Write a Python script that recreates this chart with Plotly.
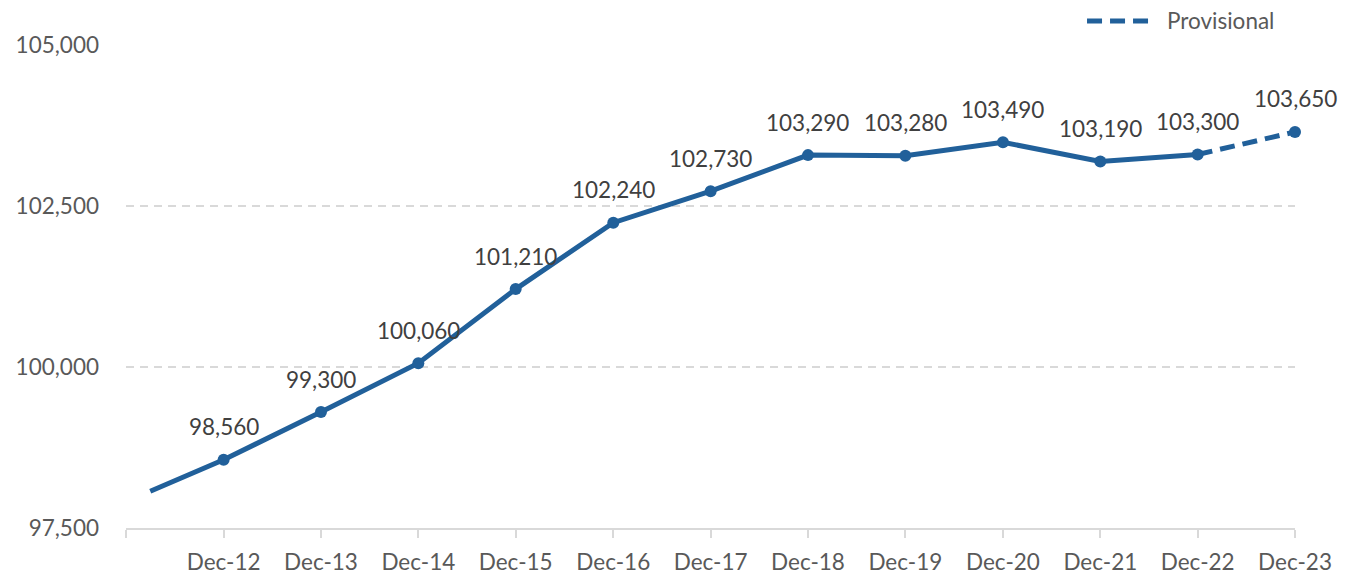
import plotly.graph_objects as go

# Data
first_date = ["2012-03-31"]
first_value = [98070]
dates = ["2012-12-31", "2013-12-31", "2014-12-31", "2015-12-31", "2016-12-31", "2017-12-31",
         "2018-12-31", "2019-12-31", "2020-12-31", "2021-12-31", "2022-12-31"]
values = [98560, 99300, 100060, 101210, 102240, 102730, 103290, 103280, 103490, 103190, 103300]
prov_dates = ["2022-12-31", "2023-12-31"]
prov_values = [103300, 103650]
tick_dates = ["2011-12-31"] + dates + ["2023-12-31"]
tick_labels = ["", "Dec-12", "Dec-13", "Dec-14", "Dec-15", "Dec-16", "Dec-17", "Dec-18",
               "Dec-19", "Dec-20", "Dec-21", "Dec-22", "Dec-23"]
y_ticks = [97500, 100000, 102500, 105000]
legend_name = "Provisional"

COLOR = "#21609A"
FONT = "Lato"
FS = 22.5
DASH = "15px,8px"

fig = go.Figure()
fig.add_trace(go.Scatter(x=first_date + dates, y=first_value + values, mode="lines",
                         line=dict(color=COLOR, width=5), showlegend=False, hoverinfo="skip"))
fig.add_trace(go.Scatter(x=prov_dates, y=prov_values, mode="lines", name=legend_name,
                         line=dict(color=COLOR, width=5, dash=DASH), showlegend=False,
                         cliponaxis=False))
fig.add_trace(go.Scatter(x=dates + prov_dates[1:], y=values + prov_values[1:], mode="markers",
                         marker=dict(color=COLOR, size=12), showlegend=False, cliponaxis=False))

for d, v in zip(dates + prov_dates[1:], values + prov_values[1:]):
    fig.add_annotation(x=d, y=v, text=f"{v:,}", showarrow=False, yshift=33,
                       font=dict(size=FS, color="#404040", family=FONT))

# legend (drawn manually to match the long dashed sample)
fig.add_shape(type="line", xref="paper", yref="paper", x0=0.8221, x1=0.8760,
              y0=1.0497, y1=1.0497, line=dict(color=COLOR, width=5, dash=DASH))
fig.add_annotation(xref="paper", yref="paper", x=0.8888, y=1.0497, xanchor="left",
                   yanchor="middle", text=legend_name, showarrow=False,
                   font=dict(size=FS, color="#595959", family=FONT))

fig.update_layout(
    width=1344, height=569,
    margin=dict(l=118, r=57, t=37, b=49),
    paper_bgcolor="white", plot_bgcolor="white",
    font=dict(family=FONT, color="#595959", size=FS),
    showlegend=False,
)
fig.update_xaxes(type="date", range=["2011-12-31", "2023-12-31"], automargin=False,
                 tickvals=tick_dates, ticktext=tick_labels,
                 showgrid=False, showline=True, linecolor="#D9D9D9", linewidth=1.5,
                 ticks="outside", ticklen=8, tickcolor="#D9D9D9", tickwidth=1.5,
                 ticklabelstandoff=5,
                 tickfont=dict(size=FS, color="#595959"), zeroline=False)
fig.update_yaxes(range=[97500, 105000], tickvals=y_ticks, tickformat=",", automargin=False,
                 showgrid=True, gridcolor="#D9D9D9", griddash="8px,6px", gridwidth=1.8,
                 showline=False, zeroline=False, ticks="", ticklen=0,
                 ticklabelstandoff=26,
                 tickfont=dict(size=FS, color="#595959"))

fig.write_html("out.html")
